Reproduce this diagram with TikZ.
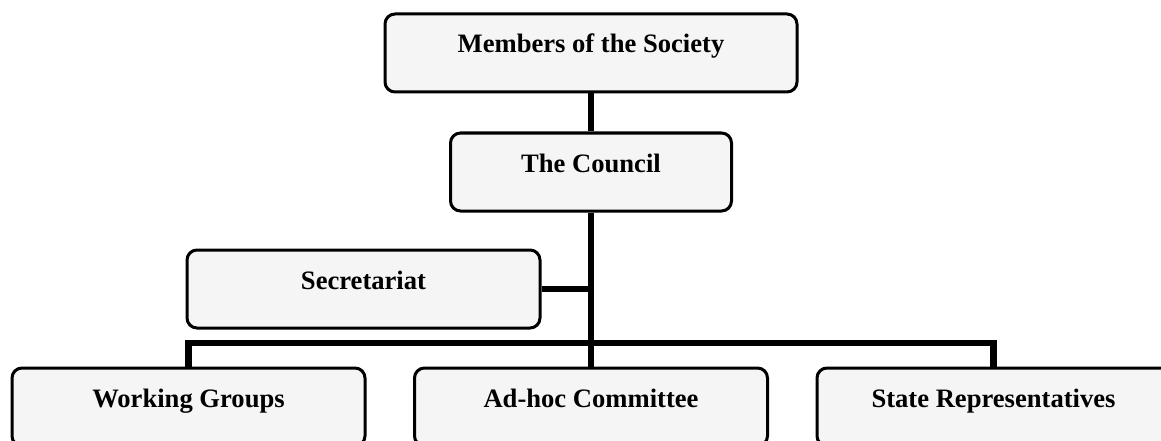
\documentclass[tikz,border=0pt]{standalone}
\usepackage{fontspec}
\setmainfont{Liberation Serif}
\begin{document}
\begin{tikzpicture}[x=1pt,y=-1pt,
  box/.style={draw=black, line width=3pt, rounded corners=10pt, fill=black!4,
    minimum height=78pt, inner sep=0pt, text height=16pt, text depth=16pt,
    font=\fontsize{26.6}{30}\selectfont\bfseries},
  conn/.style={draw=black, line width=6.5pt}]
\useasboundingbox (0,0) rectangle (1161,441);
\clip (0,0) rectangle (1161,441);
\node[box, minimum width=412pt] (mem) at (591,53) {Members of the Society};
\node[box, minimum width=281pt] (cou) at (591,172) {The Council};
\node[box, minimum width=353pt] (sec) at (363.5,289) {Secretariat};
\node[box, minimum width=353pt] (wg) at (188.5,407) {Working Groups};
\node[box, minimum width=353pt] (ah) at (591,407) {Ad-hoc Committee};
\node[box, minimum width=353pt] (sr) at (993.5,407) {State Representatives};
\coordinate (bus) at (591,343);
\draw[conn] (mem.south) -- (cou.north);
\draw[conn] (cou.south) -- (ah.north);
\draw[conn] (sec.east) -- (sec.east -| cou.south);
\draw[conn] (wg.north) |- (bus) -| (sr.north);
\end{tikzpicture}
\end{document}
